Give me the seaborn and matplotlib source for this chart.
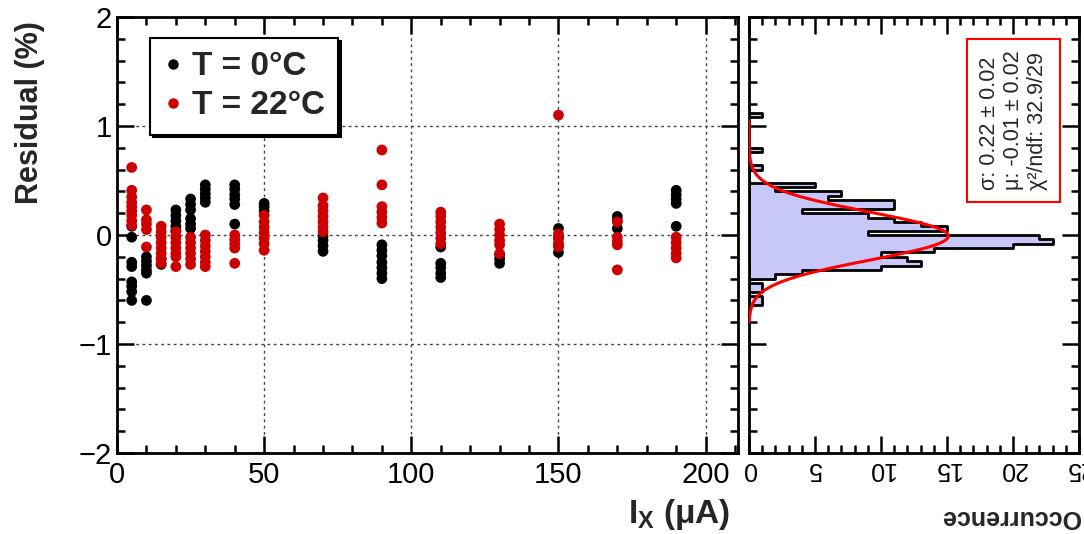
import numpy as np
import pandas as pd
import matplotlib
matplotlib.use("Agg")
import matplotlib.pyplot as plt
from matplotlib.lines import Line2D
from matplotlib.ticker import MultipleLocator
import seaborn as sns

# ---------------- data ----------------
currents = [5, 10, 15, 20, 25, 30, 40, 50, 70, 90, 110, 130, 150, 170, 190]

res_0C = [
    [0.08, -0.02, -0.25, -0.29, -0.43, -0.47, -0.52, -0.60],
    [-0.20, -0.24, -0.28, -0.32, -0.35, -0.60],
    [-0.22, -0.27],
    [0.23, 0.18, 0.13, 0.08, 0.04],
    [0.33, 0.28, 0.23, 0.15, 0.10, 0.06],
    [0.46, 0.42, 0.38, 0.34, 0.30],
    [0.46, 0.42, 0.37, 0.33, 0.28, 0.10],
    [0.29, 0.26, 0.22],
    [-0.01, -0.05, -0.10, -0.15],
    [-0.09, -0.14, -0.19, -0.25, -0.30, -0.35, -0.40],
    [-0.11, -0.26, -0.30, -0.35, -0.39],
    [-0.18, -0.22, -0.26],
    [0.06, -0.02, -0.10, -0.16],
    [0.17, 0.13, 0.06],
    [0.41, 0.37, 0.33, 0.29, 0.08],
]

res_22C = [
    [0.62, 0.41, 0.35, 0.30, 0.26, 0.22, 0.18, 0.13, 0.09],
    [0.23, 0.14, 0.10, 0.05, -0.11],
    [0.08, 0.03, -0.02, -0.07, -0.12, -0.17, -0.22, -0.26],
    [0.03, -0.02, -0.07, -0.12, -0.17, -0.20, -0.29],
    [-0.02, -0.07, -0.12, -0.17, -0.22, -0.27],
    [0.00, -0.05, -0.10, -0.15, -0.20, -0.25, -0.29],
    [0.00, -0.04, -0.08, -0.12, -0.26],
    [0.18, 0.12, 0.07, 0.02, -0.03, -0.08, -0.14],
    [0.34, 0.27, 0.22, 0.17, 0.12, 0.07, 0.03],
    [0.78, 0.46, 0.26, 0.21, 0.16, 0.11],
    [0.21, 0.17, 0.12, 0.07, 0.02, -0.03, -0.08],
    [0.10, 0.05, 0.00, -0.05, -0.09, -0.17],
    [1.10, 0.01, -0.03, -0.07, -0.11],
    [0.12, -0.02, -0.06, -0.09, -0.32],
    [-0.02, -0.07, -0.12, -0.17, -0.21],
]

series_labels = ["T = 0°C", "T = 22°C"]

# histogram of residuals (bin edges from -0.68 to 1.12, width 0.04)
hist_lo = -0.68
hist_width = 0.04
hist_counts = [0, 1, 1, 0, 1, 1, 0, 2, 4, 10, 13, 12, 10, 14, 20, 23, 22,
               9, 15, 13, 11, 9, 4, 11, 11, 6, 7, 2, 5,
               0, 0, 0, 1, 0, 0, 0, 1,
               0, 0, 0, 0, 0, 0, 0, 1]

# gaussian fit parameters
fit_sigma = 0.22
fit_sigma_err = 0.02
fit_mu = -0.01
fit_mu_err = 0.02
fit_amp = 15.1
fit_chi2 = 32.9
fit_ndf = 29

# ---------------- style ----------------
sns.set_theme(style="ticks")
plt.rcParams["font.family"] = ["Liberation Sans", "DejaVu Sans"]
plt.rcParams["mathtext.fontset"] = "custom"
plt.rcParams["mathtext.rm"] = "Liberation Sans:bold"
plt.rcParams["mathtext.bf"] = "Liberation Sans:bold"
plt.rcParams["mathtext.it"] = "Liberation Sans:bold"
plt.rcParams["axes.linewidth"] = 2.0
plt.rcParams["axes.edgecolor"] = "black"

RED = "#cc0000"
fig = plt.figure(figsize=(10.84, 5.34), dpi=100)
fig.patch.set_facecolor("white")

W, H = 1084.0, 534.0
ax = fig.add_axes([117 / W, 1 - 453 / H, (738 - 117) / W, (453 - 17) / H])
axh = fig.add_axes([749 / W, 1 - 453 / H, (1079 - 749) / W, (453 - 17) / H])

# ---------------- scatter ----------------
rows = []
for lab, res in zip(series_labels, [res_0C, res_22C]):
    for cur, vals in zip(currents, res):
        for v in vals:
            rows.append({"I": cur, "res": v, "T": lab})
df = pd.DataFrame(rows)

sns.scatterplot(data=df, x="I", y="res", hue="T",
                palette={series_labels[0]: "black", series_labels[1]: RED},
                s=60, linewidth=0, legend=False, ax=ax, zorder=3)

ax.set_xlim(0, 211)
ax.set_ylim(-2, 2)
ax.xaxis.set_major_locator(MultipleLocator(50))
ax.xaxis.set_minor_locator(MultipleLocator(10))
ax.yaxis.set_major_locator(MultipleLocator(1))
ax.yaxis.set_minor_locator(MultipleLocator(0.2))
ax.tick_params(which="both", direction="in", top=True, right=True, width=1.8,
               labelsize=21, colors="black")
ax.tick_params(which="major", length=12)
ax.tick_params(which="minor", length=6)
ax.tick_params(axis="x", pad=6)
ax.grid(True, which="major", linestyle=(0, (2, 2.5)), color="#444444", linewidth=1.0)
ax.set_yticks([-2, -1, 0, 1, 2])
ax.set_yticklabels(["\u22122", "\u22121", "0", "1", "2"])

ax.set_ylabel("Residual (%)", fontsize=22, fontweight="bold", loc="top")
ax.yaxis.set_label_coords(-0.116, 0.99)
ax.set_xlabel(r"I$_{\mathregular{X}}$ ($\mathregular{\mu}$A)", fontsize=24,
              fontweight="bold", loc="right")
ax.xaxis.set_label_coords(0.987, -0.101)

handles = [Line2D([], [], marker="o", ls="", color="black", markersize=6.5),
           Line2D([], [], marker="o", ls="", color=RED, markersize=6.5)]
leg = ax.legend(handles, series_labels, loc="upper left",
                bbox_to_anchor=(0.053, 0.952), borderaxespad=0,
                fancybox=False, edgecolor="black", framealpha=1,
                prop={"weight": "bold", "size": 24}, handlelength=0.6,
                handletextpad=0.25, borderpad=0.4, labelspacing=0.24,
                shadow={"color": "black", "alpha": 1})
leg.get_frame().set_linewidth(1.5)
leg.set_zorder(5)

# ---------------- histogram ----------------
nb = len(hist_counts)
edges = hist_lo + hist_width * np.arange(nb + 1)
centers = edges[:-1] + hist_width / 2
hdf = pd.DataFrame({"res": centers, "n": hist_counts})
sns.histplot(data=hdf, y="res", weights="n", bins=list(edges), element="step",
             fill=True, color="#c8c8f8", edgecolor="black", linewidth=2.0,
             alpha=1, ax=axh)

r_grid = np.linspace(-0.8, 1.05, 400)
fit_curve = fit_amp * np.exp(-0.5 * ((r_grid - fit_mu) / fit_sigma) ** 2)
sns.lineplot(x=fit_curve, y=r_grid, sort=False, estimator=None, color="red",
             linewidth=2.2, ax=axh, zorder=4)

axh.set_xlim(0, 25)
axh.set_ylim(-2, 2)
axh.set_xlabel("")
axh.set_ylabel("")
axh.xaxis.set_major_locator(MultipleLocator(5))
axh.xaxis.set_minor_locator(MultipleLocator(1))
axh.yaxis.set_major_locator(MultipleLocator(1))
axh.yaxis.set_minor_locator(MultipleLocator(0.2))
axh.tick_params(which="both", direction="in", top=True, right=True, width=1.8,
                labelleft=False, colors="black")
axh.tick_params(which="major", length=12)
axh.tick_params(which="minor", length=6)
axh.tick_params(axis="x", labelsize=18, labelrotation=180, pad=3)

fit_text = (f"σ: {fit_sigma:.2f} ± {fit_sigma_err:.2f}\n"
            f"μ: {fit_mu:.2f} ± {fit_mu_err:.2f}\n"
            f"χ²/ndf: {fit_chi2:.1f}/{fit_ndf}")
axh.text(0.801, 0.763, fit_text, transform=axh.transAxes, rotation=90,
         ha="center", va="center", multialignment="left", fontsize=15.5,
         linespacing=1.2, zorder=6,
         bbox=dict(boxstyle="square,pad=0.55", fc="white", ec="red", lw=1.5))

fig.text(1080 / W, 1 - 517 / H, "Occurrence", rotation=180, ha="right",
         va="center", fontsize=18, fontweight="bold")

fig.savefig("out.png", dpi=100)
